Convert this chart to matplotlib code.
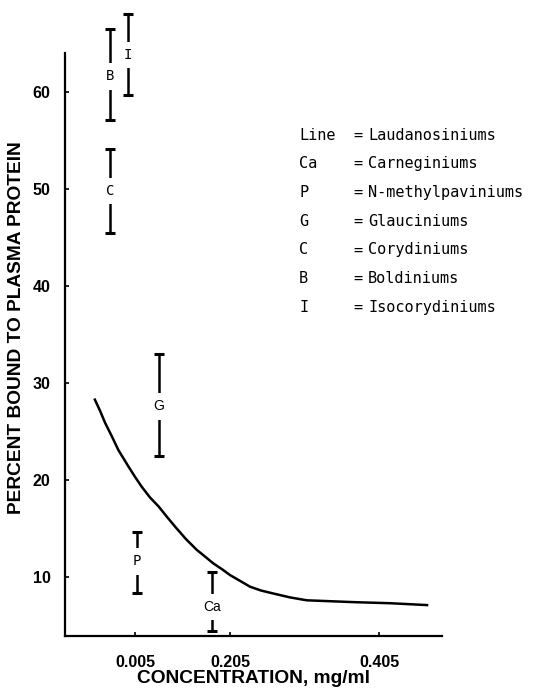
import matplotlib
matplotlib.use("Agg")
import matplotlib.pyplot as plt

# ---- data (x in horizontal position units of the original axis) ----
curve_x = [0.635, 0.690, 0.736, 0.800, 0.861, 0.956, 1.020, 1.082, 1.160,
           1.239, 1.320, 1.396, 1.500, 1.601, 1.680, 1.758, 1.840, 1.915,
           2.010, 2.104, 2.210, 2.324, 2.480, 2.639, 2.870, 3.110, 3.425,
           3.786]
curve_y = [28.4, 27.1, 25.9, 24.5, 23.1, 21.4, 20.3, 19.3, 18.2,
           17.3, 16.2, 15.2, 13.9, 12.8, 12.1, 11.4, 10.8, 10.2,
           9.6, 9.0, 8.6, 8.3, 7.9, 7.6, 7.5, 7.4, 7.3,
           7.1]

bar_labels = ["B", "I", "C", "G", "P", "Ca"]
bar_x = [0.783, 0.955, 0.783, 1.246, 1.038, 1.742]
bar_low = [57.1, 59.7, 45.5, 22.5, 8.4, 4.4]
bar_high = [66.5, 68.0, 54.1, 33.0, 14.6, 10.5]
label_y = [61.6, 63.8, 49.8, 27.6, 11.6, 6.9]

xtick_pos = [1.019, 1.915, 3.321]
xtick_labels = ["0.005", "0.205", "0.405"]
ytick_vals = [10, 20, 30, 40, 50, 60]

legend_keys = ["Line", "Ca", "P", "G", "C", "B", "I"]
legend_names = ["Laudanosiniums", "Carneginiums", "N-methylpaviniums",
                "Glauciniums", "Corydiniums", "Boldiniums", "Isocorydiniums"]

# ---- figure ----
W, H = 533, 688
fig = plt.figure(figsize=(W / 100, H / 100), dpi=100)
ax = fig.add_axes([65 / W, 1 - 636 / H, 377 / W, 626.5 / H])
ax.set_xlim(0.358, 3.915)
ax.set_ylim(3.92, 68.5)

for s in ["top", "right"]:
    ax.spines[s].set_visible(False)
ax.spines["left"].set_bounds(3.92, 64.0)
ax.spines["left"].set_linewidth(1.6)
ax.spines["bottom"].set_linewidth(1.6)

ax.plot(curve_x, curve_y, color="black", lw=1.8, solid_capstyle="butt",
        solid_joinstyle="round")

mono_labels = {"B", "I", "C", "P"}
for lab, x, lo, hi, ly in zip(bar_labels, bar_x, bar_low, bar_high, label_y):
    mid = (lo + hi) / 2
    ax.errorbar([x], [mid], yerr=[[mid - lo], [hi - mid]], fmt="none",
                ecolor="black", elinewidth=1.8, capsize=3.3, capthick=2.2,
                clip_on=False)
    fam = "DejaVu Sans Mono" if lab in mono_labels else "Liberation Sans"
    ax.text(x, ly, lab, ha="center", va="center", fontsize=10, family=fam,
            bbox=dict(boxstyle="square,pad=0.45", fc="white", ec="none"),
            zorder=5)

ax.set_yticks(ytick_vals)
ax.set_yticklabels([str(v) for v in ytick_vals])
ax.set_xticks(xtick_pos)
ax.set_xticklabels(xtick_labels)
ax.tick_params(axis="y", direction="in", length=3, width=1.2, pad=10.5,
               labelsize=11.5)
ax.tick_params(axis="x", direction="in", length=3, width=1.2, pad=13.5,
               labelsize=11.5)
for t in ax.get_xticklabels() + ax.get_yticklabels():
    t.set_family("Liberation Sans")
    t.set_fontweight("bold")

ax.set_ylabel("PERCENT BOUND TO PLASMA PROTEIN", family="Liberation Sans",
              fontsize=13.8, fontweight="bold")
ax.yaxis.set_label_coords(-0.106, 0.4916)
ax.set_xlabel("CONCENTRATION, mg/ml", family="Liberation Sans",
              fontsize=13.8, fontweight="bold")
ax.xaxis.set_label_coords(0.4987, -0.0535)

# legend text block
row0, dy = 135, 28.7
for i, (k, n) in enumerate(zip(legend_keys, legend_names)):
    y = 1 - (row0 + i * dy) / H
    fig.text(299 / W, y, k, family="DejaVu Sans Mono", fontsize=11, va="center")
    fig.text(353 / W, y, "=", family="DejaVu Sans Mono", fontsize=11, va="center")
    fig.text(368 / W, y, n, family="DejaVu Sans Mono", fontsize=11, va="center")

fig.savefig("out.png", dpi=100)
